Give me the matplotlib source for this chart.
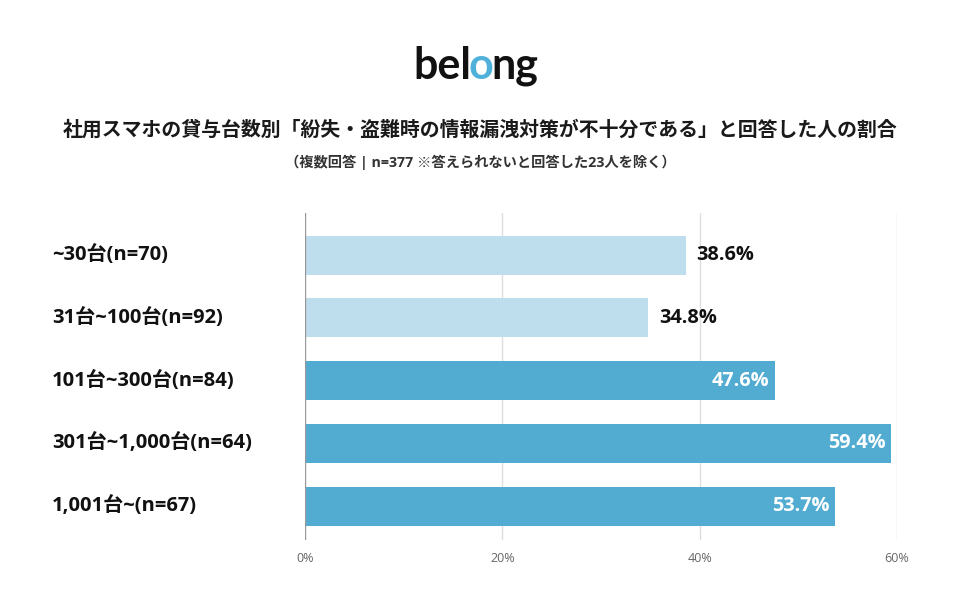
import matplotlib
matplotlib.use("Agg")
import matplotlib.pyplot as plt
from matplotlib.transforms import blended_transform_factory

plt.rcParams["font.family"] = ["Open Sans", "Noto Sans CJK JP", "DejaVu Sans"]

# Data
categories = ["~30台(n=70)", "31台~100台(n=92)", "101台~300台(n=84)",
              "301台~1,000台(n=64)", "1,001台~(n=67)"]
values = [38.6, 34.8, 47.6, 59.4, 53.7]
highlight = [False, False, True, True, True]
xticks = [0, 20, 40, 60]

light = "#BEDEEE"
dark = "#52ACD2"

fig = plt.figure(figsize=(9.6, 6), dpi=100)
ax = fig.add_axes([0.3177, 0.1, 0.6166, 0.545])

ypos = list(range(len(categories)))
colors = [dark if h else light for h in highlight]
ax.barh(ypos, values, height=0.62, color=colors, zorder=3)

# value labels: dark bars inside in white, light bars outside in black
for y, v, h in zip(ypos, values, highlight):
    if h:
        ax.text(v - 0.5, y, f"{v}%", ha="right", va="center", color="white",
                fontsize=14.3, fontweight="bold", zorder=4)
    else:
        ax.text(v + 1.1, y, f"{v}%", ha="left", va="center", color="#111111",
                fontsize=14.3, fontweight="bold", zorder=4)

ax.set_xlim(0, 60)
ax.set_ylim(4.54, -0.67)
ax.set_xticks(xticks)
ax.set_xticklabels([f"{t}%" for t in xticks], color="#666666", fontsize=9)
ax.tick_params(axis="x", length=0, pad=9)
ax.set_yticks([])
for t in xticks[1:]:
    ax.axvline(t, color="#DDDDDD", linewidth=1, zorder=1)
ax.axvline(0, color="#999999", linewidth=1, zorder=5)
for s in ax.spines.values():
    s.set_visible(False)

# category labels on the left
trans = blended_transform_factory(fig.transFigure, ax.transData)
for y, c in zip(ypos, categories):
    ax.text(52 / 960, y, c, transform=trans, fontsize=14.5,
            fontweight="bold", color="#111111", va="center", ha="left")

# logo: "bel" + blue "o" + "ng"
renderer = fig.canvas.get_renderer()
logo_y = 0.89
x0 = 413 / 960
for part, col in [("bel", "#111111"), ("o", "#4FB0DA"), ("ng", "#111111")]:
    t = fig.text(x0, logo_y, part, ha="left", va="center", fontsize=31,
                 family="Lato", color=col, fontweight="bold")
    bb = t.get_window_extent(renderer)
    x0 = (bb.x1 - 2) / fig.bbox.width

fig.text(0.5, 0.782, "社用スマホの貸与台数別「紛失・盗難時の情報漏洩対策が不十分である」と回答した人の割合",
         ha="center", va="center", fontsize=14.3, fontweight="bold", color="#1a1a1a")
fig.text(0.5, 0.73, "（複数回答 | n=377 ※答えられないと回答した23人を除く）",
         ha="center", va="center", fontsize=10.3, fontweight="bold", color="#333333")

fig.savefig("out.png", dpi=100, facecolor="white")
